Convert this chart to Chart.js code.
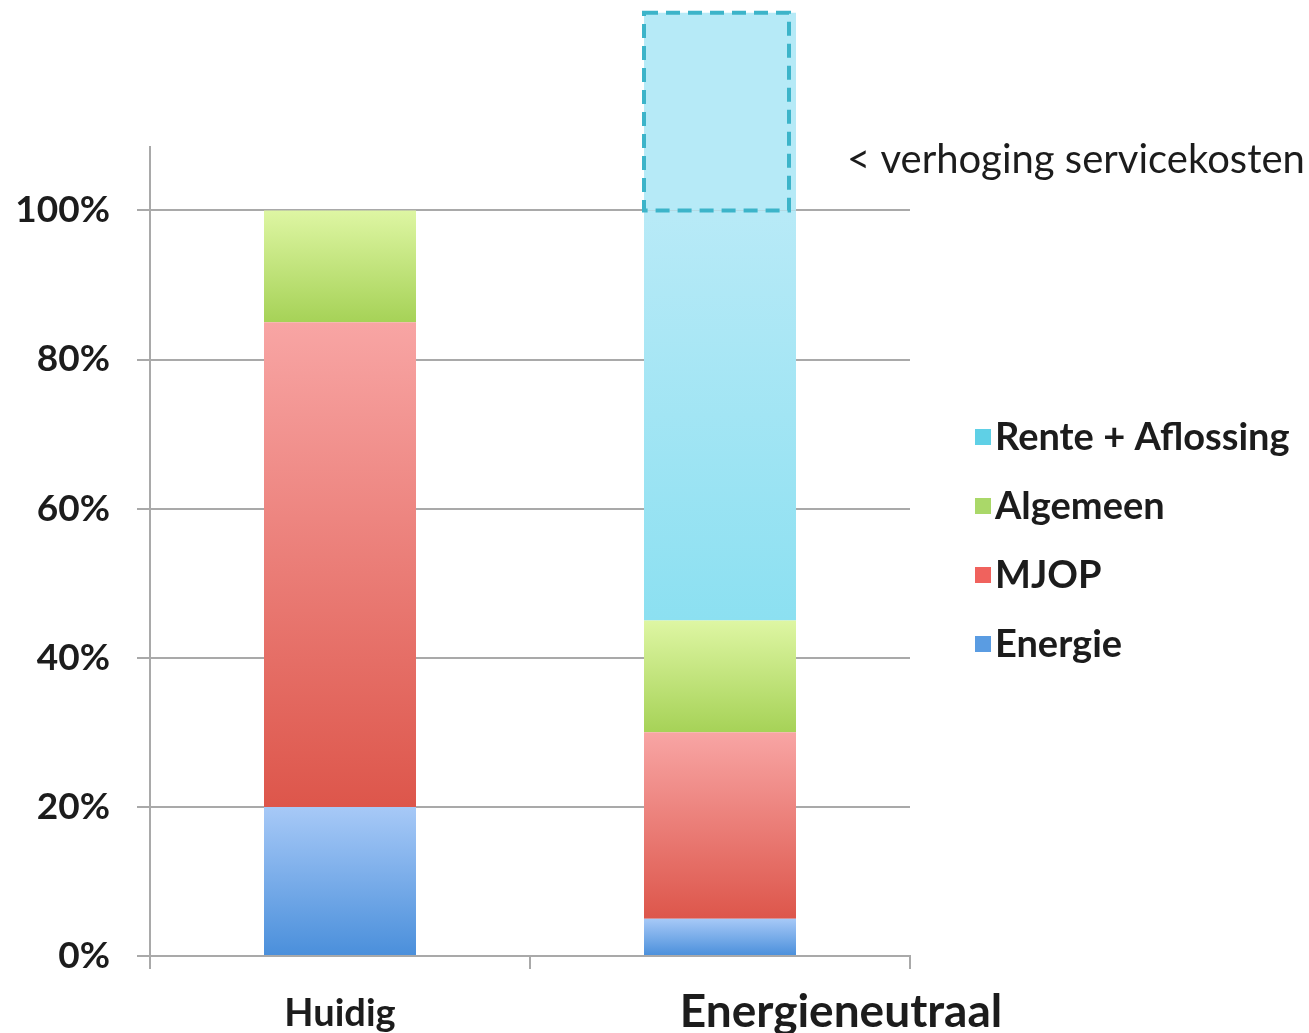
<!DOCTYPE html>
<html>
<head>
<meta charset="utf-8">
<script src="https://cdn.jsdelivr.net/npm/chart.js@4/dist/chart.umd.min.js"></script>
<style>
  html, body { margin: 0; padding: 0; background: #fff; }
  #wrap { width: 1309px; height: 1033px; }
</style>
</head>
<body>
<div id="wrap"><canvas id="kosten" width="1309" height="1033"></canvas></div>
<script>
// data (percent of current costs)
const categories = ['Huidig', 'Energieneutraal'];
const energie = [20, 5];
const mjop = [65, 25];
const algemeen = [15, 15];
const renteAflossing = [0, 55];
const verhoging = [0, 26.5];          // dashed part above 100%
const yTicks = [0, 20, 40, 60, 80, 100];
const seriesNames = ['Energie', 'MJOP', 'Algemeen', 'Rente + Aflossing'];
const annotation = '< verhoging servicekosten';

// styles
const FONT = 'Lato, "Open Sans", sans-serif';
const TEXT = '#1c1c1c';
const GRID = '#a9a9a9';
const gradTops = ['#a7c9f7', '#f8a5a4', '#def6a3', '#b8eaf7'];
const gradBottoms = ['#4a8fdb', '#dd564b', '#a6d257', '#8ce0f1'];
const legendColors = ['#5a9ce2', '#f0625d', '#aad869', '#5fd0e6'];

function gradient(idx) {
  return function (c) {
    const chart = c.chart;
    if (!chart.chartArea || c.type !== 'data') return gradBottoms[idx];
    const y = chart.scales.y;
    let start = 0;
    for (let k = 0; k < c.datasetIndex; k++) start += chart.data.datasets[k].data[c.dataIndex];
    const end = start + chart.data.datasets[c.datasetIndex].data[c.dataIndex];
    const g = chart.ctx.createLinearGradient(0, y.getPixelForValue(end), 0, y.getPixelForValue(start));
    g.addColorStop(0, gradTops[idx]);
    g.addColorStop(1, gradBottoms[idx]);
    return g;
  };
}

const extras = {
  id: 'extras',
  afterDatasetsDraw(chart) {
    const ctx = chart.ctx;
    const meta = chart.getDatasetMeta(4);
    meta.data.forEach((bar, i) => {
      if (!verhoging[i]) return;
      const p = bar.getProps(['x', 'y', 'base', 'width'], true);
      const left = p.x - p.width / 2;
      ctx.save();
      ctx.setLineDash([14, 8]);
      ctx.lineWidth = 4;
      ctx.strokeStyle = '#3cb4c9';
      ctx.strokeRect(left, p.y, p.width - 7, p.base - p.y);
      ctx.restore();

      ctx.save();
      ctx.font = 'normal 40px ' + FONT;
      ctx.fillStyle = TEXT;
      ctx.textAlign = 'left';
      ctx.textBaseline = 'middle';
      ctx.fillText(annotation, p.x + p.width / 2 + 51, p.base - 50);
      ctx.restore();
    });
  },
  afterDraw(chart) {
    const ctx = chart.ctx;
    const xs = chart.scales.x;
    const area = chart.chartArea;
    // category labels (the second one sits right of its bar in the original)
    ctx.save();
    ctx.fillStyle = TEXT;
    ctx.textAlign = 'center';
    ctx.textBaseline = 'middle';
    ctx.font = 'bold 38px ' + FONT;
    ctx.fillText(categories[0], xs.getPixelForTick(0), area.bottom + 58);
    ctx.font = 'bold 46px ' + FONT;
    ctx.fillText(categories[1], xs.getPixelForTick(1) + 121, area.bottom + 56);
    ctx.restore();

    // legend, reversed order
    ctx.save();
    ctx.font = 'bold 38px ' + FONT;
    ctx.textAlign = 'left';
    ctx.textBaseline = 'middle';
    const lx = area.right + 65;
    for (let j = 0; j < seriesNames.length; j++) {
      const k = seriesNames.length - 1 - j;
      const cy = 438 + j * 69;
      ctx.fillStyle = legendColors[k];
      ctx.fillRect(lx, cy - 9, 16, 16);
      ctx.fillStyle = TEXT;
      ctx.fillText(seriesNames[k], lx + 20, cy);
    }
    ctx.restore();
  }
};

new Chart(document.getElementById('kosten'), {
  type: 'bar',
  data: {
    labels: categories,
    datasets: [
      { label: seriesNames[0], data: energie, backgroundColor: gradient(0) },
      { label: seriesNames[1], data: mjop, backgroundColor: gradient(1) },
      { label: seriesNames[2], data: algemeen, backgroundColor: gradient(2) },
      { label: seriesNames[3], data: renteAflossing, backgroundColor: gradient(3) },
      { label: 'verhoging', data: verhoging, backgroundColor: '#b6eaf7', clip: false }
    ]
  },
  options: {
    responsive: false,
    animation: false,
    events: [],
    layout: { padding: { top: 147, right: 399, left: 0, bottom: 0 } },
    datasets: { bar: { barPercentage: 0.5, categoryPercentage: 0.8, borderWidth: 0 } },
    plugins: { legend: { display: false }, tooltip: { enabled: false } },
    scales: {
      x: {
        stacked: true,
        grid: { offset: true, drawOnChartArea: false, color: GRID, lineWidth: 2, tickLength: 13 },
        border: { color: GRID, width: 2 },
        ticks: { display: false },
        afterFit(s) { s.height = 77; }
      },
      y: {
        stacked: true,
        min: 0,
        max: 108.5,
        afterBuildTicks(s) { s.ticks = yTicks.map(v => ({ value: v })); },
        grid: { color: GRID, lineWidth: 2, tickLength: 13 },
        border: { color: GRID, width: 2 },
        ticks: {
          padding: 27,
          color: TEXT,
          font: { family: FONT, size: 37, weight: 'bold' },
          callback: v => v + '%'
        },
        afterFit(s) { s.width = 150; }
      }
    }
  },
  plugins: [extras]
});
</script>
</body>
</html>
